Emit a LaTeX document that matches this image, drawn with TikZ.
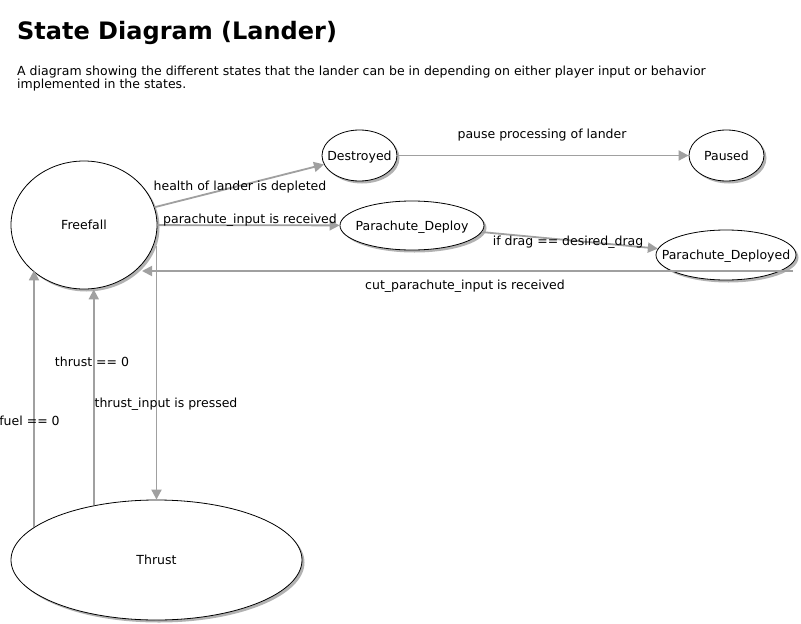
\documentclass[tikz,border=0pt]{standalone}
\usepackage{fontspec}
\setmainfont{DejaVu Sans}
\usetikzlibrary{shapes.geometric,arrows.meta,shadows}
\definecolor{edgegray}{HTML}{A0A0A0}
\newcommand{\stxt}[1]{\makebox[0pt]{\raisebox{-0.37em}[0pt][0pt]{#1}}}
\begin{document}
\begin{tikzpicture}[x=1pt,y=-1pt,
  state/.style={ellipse,draw=black,line width=0.8pt,fill=white,inner sep=0pt,
    font=\fontsize{12.5}{14}\selectfont,
    drop shadow={shadow xshift=2.5pt,shadow yshift=-2.5pt,fill=black!50,opacity=0.6}},
  edge/.style={draw=edgegray,line width=1.8pt,-{Triangle[length=10pt,width=10pt]}},
  lbl/.style={font=\fontsize{12.5}{14}\selectfont,inner sep=0pt}]
\useasboundingbox (0,0) rectangle (801,624);
\fill[white] (0,0) rectangle (801,624);

% title and description
\node[anchor=base west,inner sep=0pt,font=\fontsize{24}{28}\selectfont\bfseries] (title) at (17,39) {State Diagram (Lander)};
\node[anchor=base west,inner sep=0pt,font=\fontsize{12.5}{14}\selectfont] (desc1) at (17,75) {A diagram showing the different states that the lander can be in depending on either player input or behavior};
\node[anchor=base west,inner sep=0pt,font=\fontsize{12.5}{14}\selectfont] (desc2) at (17,88) {implemented in the states.};

% states
\node[state,minimum width=146pt,minimum height=128pt] (ff) at (84,225) {\stxt{Freefall}};
\node[state,minimum width=75pt,minimum height=51pt] (destroyed) at (359.5,155.5) {\stxt{Destroyed}};
\node[state,minimum width=75pt,minimum height=51pt] (paused) at (726.5,155.5) {\stxt{Paused}};
\node[state,minimum width=144pt,minimum height=49pt] (pdeploy) at (412,225.5) {\stxt{Parachute\_Deploy}};
\node[state,minimum width=140pt,minimum height=50pt] (pdeployed) at (726,255) {\stxt{Parachute\_Deployed}};
\node[state,minimum width=291pt,minimum height=120pt] (thrust) at (156.5,560) {\stxt{Thrust}};

% connectors
\draw[edge] (ff) -- (destroyed);
\draw[edge] (destroyed) -- (paused);
\draw[edge] (ff) -- (pdeploy);
\draw[edge] (pdeploy) -- (pdeployed);
\coordinate (cutA) at (793,271);
\coordinate (cutB) at (142,271);
\draw[edge] (cutA) -- (cutB);
\draw[edge] (thrust.north |- ff.-17) -- (thrust.north);
\draw[edge] (thrust.139) -- (thrust.139 |- ff.south);
\draw[edge] (thrust.165.8) -- (thrust.165.8 |- ff.221);

% labels
\node[lbl] (l1) at (240,187) {health of lander is depleted};
\node[lbl] (l2) at (250,220) {parachute\_input is received};
\node[lbl] (l3) at (542,135) {pause processing of lander};
\node[lbl] (l4) at (568,242) {if drag == desired\_drag};
\node[lbl] (l5) at (465,286) {cut\_parachute\_input is received};
\node[lbl] (l6) at (92,361.5) {thrust == 0};
\node[lbl] (l7) at (166,404) {thrust\_input is pressed};
\node[lbl] (l8) at (29.5,421) {fuel == 0};
\end{tikzpicture}
\end{document}
